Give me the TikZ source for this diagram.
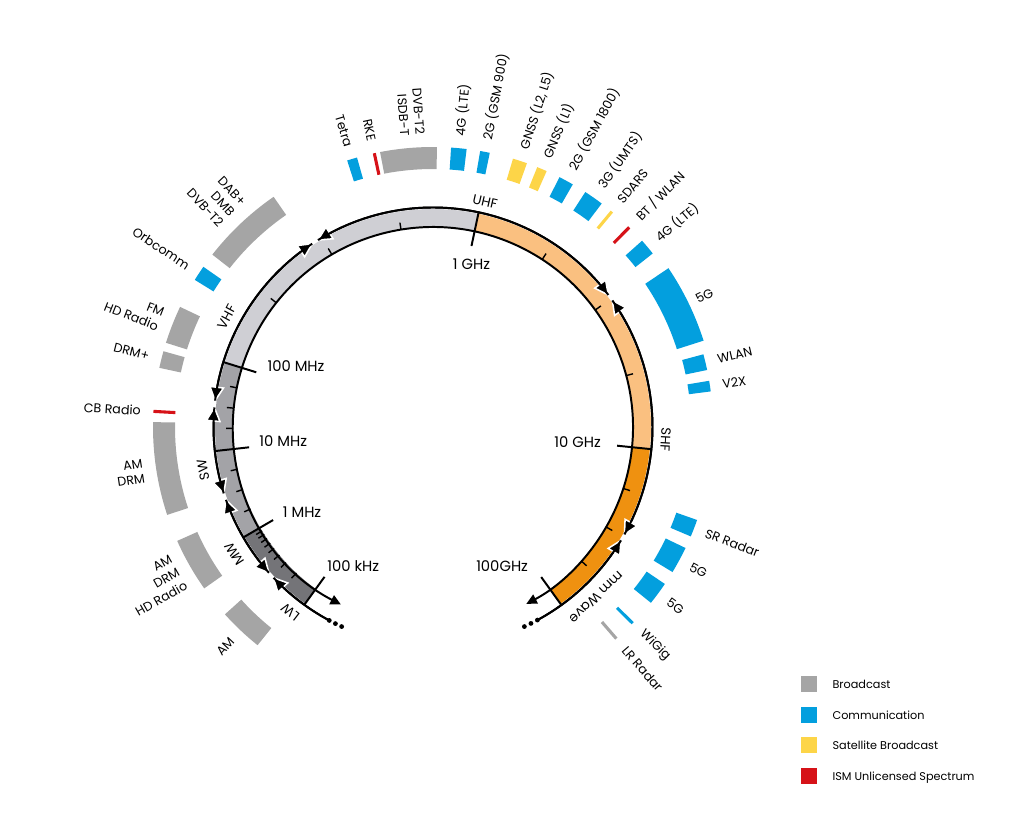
\documentclass[tikz,border=0pt]{standalone}
\usepackage{fontspec}
\setmainfont{Poppins}
\usetikzlibrary{arrows.meta,positioning}

\definecolor{bcast}{RGB}{165,165,165}
\definecolor{comm}{RGB}{3,159,222}
\definecolor{satb}{RGB}{253,213,72}
\definecolor{ismred}{RGB}{214,18,24}
\definecolor{lfgray}{RGB}{116,116,120}
\definecolor{hfgray}{RGB}{163,163,167}
\definecolor{vhfgray}{RGB}{207,207,212}
\definecolor{shforange}{RGB}{250,192,128}
\definecolor{mmorange}{RGB}{239,145,16}

% pieces of rings, angles in degrees
\newcommand{\bandpart}[3]{\fill[#3] (#1:200) arc[start angle=#1, end angle=#2, radius=200] -- (#2:218) arc[start angle=#2, end angle=#1, radius=218] -- cycle;}
\newcommand{\specblock}[3]{\fill[#3] (#1:258) arc[start angle=#1, end angle=#2, radius=258] -- (#2:280) arc[start angle=#2, end angle=#1, radius=280] -- cycle;}
\newcommand{\specline}[2]{\draw[#2, line width=2.2pt] (#1:258) -- (#1:280);}
\newcommand{\rangetip}[2]{\filldraw[fill=black, draw=white, line width=1.1pt, shift={(#1:219.5)}, rotate=#1+#2] (0,0) -- (-13.5,6.8) -- (-13.5,-6.8) -- cycle;}

\begin{document}
\begin{tikzpicture}[x=0.25mm, y=0.25mm,
  lbl/.style={font=\fontsize{9}{11}\selectfont, inner sep=1pt},
  lblR/.style={lbl, anchor=west, align=left},
  lblL/.style={lbl, anchor=east, align=right},
  rng/.style={font=\fontsize{9.5}{11}\selectfont, inner sep=0pt},
  dec/.style={font=\fontsize{10.5}{12}\selectfont, inner sep=0pt},
  rarc/.style={line width=1.4pt},
  key/.style={minimum size=4.1mm, inner sep=0pt},
  keytext/.style={font=\fontsize{8}{10}\selectfont, inner sep=0pt, text height=1.6ex, text depth=0.4ex}]
\useasboundingbox (0,0) rectangle (1024,836);

\begin{scope}[shift={(433,409)}]
  \bandpart{234.1}{210.2}{lfgray}
  \bandpart{210.2}{162.8}{hfgray}
  \bandpart{162.8}{78}{vhfgray}
  \bandpart{78}{-5.8}{shforange}
  \bandpart{-5.8}{-54.2}{mmorange}

  \draw[line width=1.4pt, {Triangle[length=7.5pt,width=7pt]}-{Triangle[length=7.5pt,width=7pt]}] (242.6:200) arc[start angle=242.6, end angle=-62.2, radius=200];

  \foreach \a in {211.3,212.5,213.9,215.5,217.4,219.8,222.7,226.9,192.2,198.2,204.2,168.7,174.6,180.4,99.2,120.4,141.6,14.9,35.8,56.9,-17.9,-30,-42.1}
    \draw[line width=1pt] (\a:200) -- (\a:207);
  \foreach \a/\n in {234.1/t100k,210.2/t1M,186.3/t10M,162.8/t100M,78/t1G,-5.8/t10G,-54.2/t100G}
    \draw[line width=1.4pt] (\a:219) -- (\a:185) coordinate (\n);

  % LW, MW, SW, VHF, UHF, SHF, mm Wave
  \foreach \s/\e in {241.8/223.4,221.6/199.4,197.6/174.9,173.1/123.4,121.6/37,35.2/-29.3,-31.1/-61.6}
    \draw[rarc] (\s:219.5) arc[start angle=\s, end angle=\e, radius=219.5];
  \foreach \a in {241.8,243.6,245.4,-61.6,-63.5,-65.4}
    \fill (\a:219.5) circle[radius=2.4];
  \rangetip{223.4}{-90} \rangetip{221.6}{90}
  \rangetip{199.4}{-90} \rangetip{197.6}{90}
  \rangetip{174.9}{-90} \rangetip{173.1}{90}
  \rangetip{123.4}{-90} \rangetip{121.6}{90}
  \rangetip{37}{-90}    \rangetip{35.2}{90}
  \rangetip{-29.3}{-90} \rangetip{-31.1}{90}
  \foreach \s/\e in {241.8/223.4,221.6/199.4,197.6/174.9,173.1/123.4,121.6/37,35.2/-29.3,-31.1/-61.6}
    \draw[rarc] (\s:219.5) arc[start angle=\s, end angle=\e, radius=219.5];

  \node[rng, rotate=142.4] (lLW) at (232.4:234) {LW};
  \node[rng, rotate=122.6] (lMW) at (212.6:236) {MW};
  \node[rng, rotate=100.6] (lSW) at (190.6:234) {SW};
  \node[rng, rotate=61.9] (lVHF) at (151.9:234) {VHF};
  \node[rng, rotate=-13] (lUHF) at (77:231) {UHF};
  \node[rng, rotate=-93.2] (lSHF) at (-3.2:233) {SHF};
  \node[rng, rotate=-136.2] (lmm) at (-46.2:236) {mm Wave};

  % spectrum users
  \specblock{105.75}{107.85}{comm}
  \specline{102.1}{ismred}
  \specblock{89.2}{100.9}{bcast}
  \specblock{83.1}{86.3}{comm}
  \specblock{78.3}{80.3}{comm}
  \specblock{70.4}{73.4}{satb}
  \specblock{66.05}{68.15}{satb}
  \specblock{60.05}{63.15}{comm}
  \specblock{52.95}{57.05}{comm}
  \specline{50.3}{satb}
  \specline{45.5}{ismred}
  \specblock{38.3}{41.7}{comm}
  \fill[comm] (17.7:256) arc[start angle=17.7, end angle=34, radius=256] -- (34:284) arc[start angle=34, end angle=17.7, radius=284] -- cycle;
  \specblock{11.75}{15.05}{comm}
  \specblock{7.3}{9.5}{comm}
  \specblock{-23}{-19.4}{comm}
  \specblock{-31.2}{-25.6}{comm}
  \specblock{-38.9}{-34.1}{comm}
  \specline{-44.5}{comm}
  \specline{-49.1}{bcast}
  \specblock{124.7}{142}{bcast}
  \specblock{145.1}{148.3}{comm}
  \specblock{154.6}{162.5}{bcast}
  \specblock{164.3}{167.8}{bcast}
  \specline{176.8}{ismred}
  \specblock{179}{198.3}{bcast}
  \specblock{204}{215.2}{bcast}
  \specblock{222}{231.2}{bcast}

  \node[lblL, rotate=-73.2] (tetra) at (106.8:291) {Tetra};
  \node[lblL, rotate=-77.9] (rke) at (102.1:291) {RKE};
  \node[lblL, rotate=-86] (dvbt) at (94:291) {DVB-T2\\ISDB-T};
  \node[lblR, rotate=84.7] (lte1) at (84.7:291) {4G (LTE)};
  \node[lblR, rotate=79.3] (gsm9) at (79.3:291) {2G (GSM 900)};
  \node[lblR, rotate=71.9] (gnss2) at (71.9:291) {GNSS (L2, L5)};
  \node[lblR, rotate=67.1] (gnss1) at (67.1:291) {GNSS (L1)};
  \node[lblR, rotate=61.6] (gsm18) at (61.6:291) {2G (GSM 1800)};
  \node[lblR, rotate=55] (umts) at (55:291) {3G (UMTS)};
  \node[lblR, rotate=50.3] (sdars) at (50.3:291) {SDARS};
  \node[lblR, rotate=45.5] (bt) at (45.5:291) {BT / WLAN};
  \node[lblR, rotate=40] (lte2) at (40:291) {4G (LTE)};
  \node[lblR, rotate=25.8] (fiveg1) at (25.8:291) {5G};
  \node[lblR, rotate=13.4] (wlan) at (13.4:291) {WLAN};
  \node[lblR, rotate=8.4] (vtx) at (8.4:291) {V2X};
  \node[lblR, rotate=-21.2] (srr) at (-21.2:291) {SR Radar};
  \node[lblR, rotate=-28.4] (fiveg2) at (-28.4:291) {5G};
  \node[lblR, rotate=-36.5] (fiveg3) at (-36.5:291) {5G};
  \node[lblR, rotate=-44.5] (wigig) at (-44.5:291) {WiGig};
  \node[lblR, rotate=-49.1] (lrr) at (-49.1:291) {LR Radar};
  \node[lblL, rotate=-46.7] (dab) at (133.3:291) {DAB+\\DMB\\DVB-T2};
  \node[lblL, rotate=-33.3] (orb) at (146.7:291) {Orbcomm};
  \node[lblL, rotate=-21.5] (fm) at (158.5:291) {FM\\HD Radio};
  \node[lblL, rotate=-14] (drmp) at (166:291) {DRM+};
  \node[lblL, rotate=-3.2] (cb) at (176.8:291) {CB Radio};
  \node[lblL, rotate=8.6] (amdrm) at (188.6:291) {AM\\DRM};
  \node[lblL, rotate=29.6] (amhd) at (209.6:291) {AM\\DRM\\HD Radio};
  \node[lblL, rotate=46.6] (am) at (226.6:291) {AM};
\end{scope}

\node[dec, anchor=south west] (f100k) at ([shift={(2.5,5)}]t100k) {100 kHz};
\node[dec, anchor=south west] (f1M) at ([shift={(9.5,2.7)}]t1M) {1 MHz};
\node[dec, anchor=south west] (f10M) at ([shift={(10,1)}]t10M) {10 MHz};
\node[dec, anchor=south west] (f100M) at ([shift={(11,1)}]t100M) {100 MHz};
\node[dec, anchor=north] (f1G) at ([shift={(0,-13)}]t1G) {1 GHz};
\node[dec, anchor=south east] (f10G) at ([shift={(-16,-2)}]t10G) {10 GHz};
\node[dec, anchor=south east] (f100G) at ([shift={(-13,5)}]t100G) {100GHz};

\node[key, fill=bcast] (kB) at (809,152) {};
\node[key, fill=comm] (kC) at (809,121) {};
\node[key, fill=satb] (kS) at (809,91) {};
\node[key, fill=ismred] (kI) at (809,60) {};
\node[keytext, right=3.7mm of kB] (tB) {Broadcast};
\node[keytext, right=3.7mm of kC] (tC) {Communication};
\node[keytext, right=3.7mm of kS] (tS) {Satellite Broadcast};
\node[keytext, right=3.7mm of kI] (tI) {ISM Unlicensed Spectrum};
\end{tikzpicture}
\end{document}
